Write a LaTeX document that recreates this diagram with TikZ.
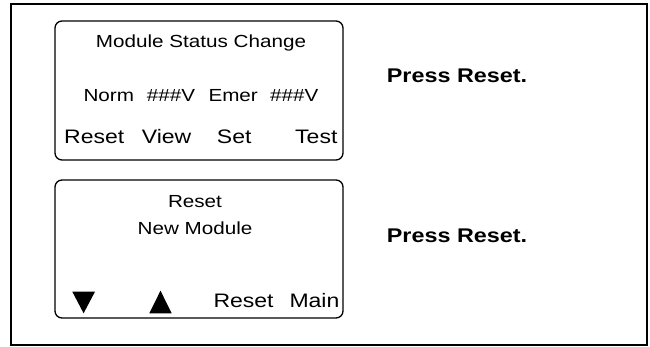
\documentclass[tikz,border=0pt]{standalone}
\usepackage{fontspec}
\setmainfont[FakeStretch=1.18]{Liberation Sans}
\begin{document}
\begin{tikzpicture}[x=1pt,y=-1pt,
  screen/.style={draw=black,line width=1.3pt,rounded corners=7pt},
  frame/.style={draw=black,line width=1.5pt},
  lcd/.style={inner sep=0pt,anchor=base west,font=\fontsize{17.5}{20}\selectfont},
  key/.style={inner sep=0pt,anchor=base west,font=\fontsize{19.5}{22}\selectfont},
  lcdc/.style={inner sep=0pt,anchor=base,font=\fontsize{17.5}{20}\selectfont},
  instr/.style={inner sep=0pt,anchor=base west,font=\fontsize{19.8}{22}\selectfont\bfseries},
  tri/.style={fill=black}]
\useasboundingbox (0,0) rectangle (650,347);
\draw[frame] (11,4) rectangle (647,345);
% screen 1
\draw[screen] (55,21) rectangle (343,160);
\node[lcdc] (title) at (201,47.7) {Module Status Change};
\node[lcd] (norm) at (83.3,101.7) {Norm};
\node[lcd] (nv) at (146.7,101.7) {\#\#\#V};
\node[lcd] (emer) at (208.3,101.7) {Emer};
\node[lcd] (ev) at (270,101.7) {\#\#\#V};
\node[key] (reset1) at (64,143.3) {Reset};
\node[key] (view) at (141.7,143.3) {View};
\node[key] (set) at (216.7,143.3) {Set};
\node[key] (test) at (295,143.3) {Test};
\node[instr] (press1) at (386.7,82.3) {Press Reset.};
% screen 2
\draw[screen] (55,180) rectangle (343,318);
\node[lcdc] (reset2) at (195,207.7) {Reset};
\node[lcdc] (newmod) at (195,235) {New Module};
\fill[tri] (72.3,291.7) -- (95,291.7) -- (83.6,313.3) -- cycle;
\fill[tri] (149.3,313.3) -- (171.7,313.3) -- (160.5,290.7) -- cycle;
\node[key] (reset3) at (213.3,307.3) {Reset};
\node[key] (main) at (289.3,307.3) {Main};
\node[instr] (press2) at (386.7,242.3) {Press Reset.};
\end{tikzpicture}
\end{document}
